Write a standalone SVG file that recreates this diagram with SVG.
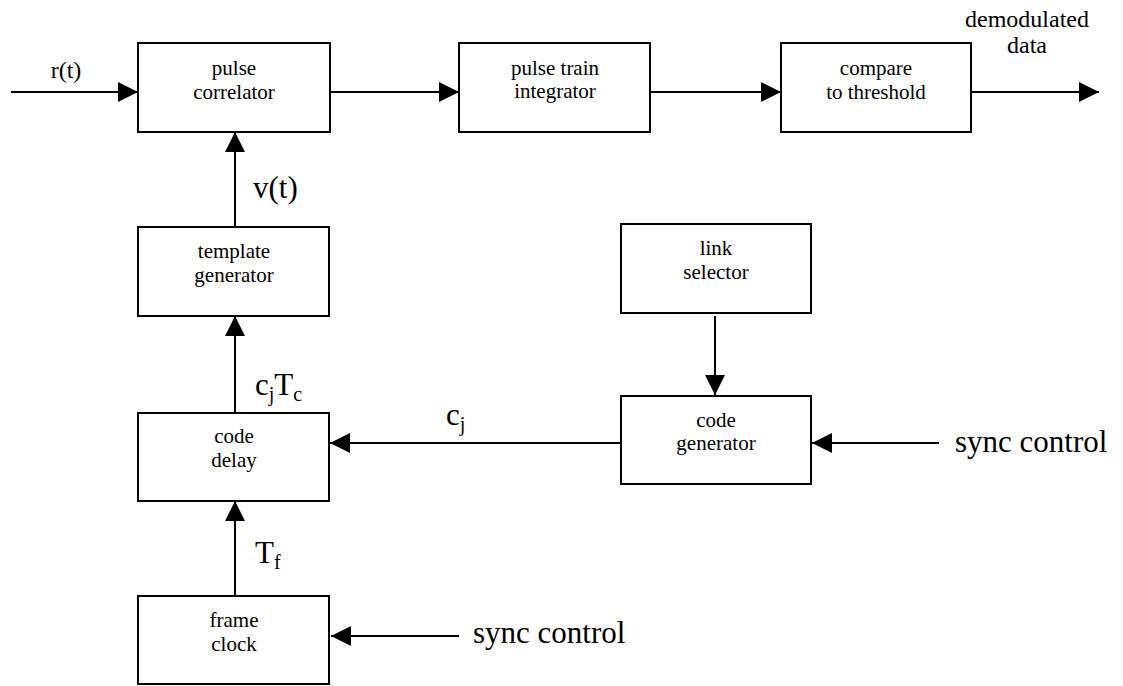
<svg xmlns="http://www.w3.org/2000/svg" width="1123" height="686" viewBox="0 0 1123 686">
<style>
.box{fill:#fff;stroke:#000;stroke-width:2}
.ln{stroke:#000;stroke-width:2;fill:none}
.bl{font-family:"Liberation Serif","Times New Roman",serif;font-size:21px;text-anchor:middle;fill:#000}
.big{font-family:"Liberation Serif","Times New Roman",serif;font-size:31px;fill:#000}
.mid{font-family:"Liberation Serif","Times New Roman",serif;font-size:24px;fill:#000}
.sub{font-size:20px}
</style>
<defs>
<marker id="ah" markerWidth="20" markerHeight="20" refX="20" refY="10" orient="auto" markerUnits="userSpaceOnUse">
<path d="M0,0 L20,10 L0,20 Z" fill="#000"/>
</marker>
</defs>
<g id="connectors">
<line class="ln" x1="11" y1="92" x2="138" y2="92" marker-end="url(#ah)"/>
<line class="ln" x1="330" y1="92" x2="459" y2="92" marker-end="url(#ah)"/>
<line class="ln" x1="650" y1="92" x2="781" y2="92" marker-end="url(#ah)"/>
<line class="ln" x1="971" y1="92" x2="1099" y2="92" marker-end="url(#ah)"/>
<line class="ln" x1="235" y1="227" x2="235" y2="132" marker-end="url(#ah)"/>
<line class="ln" x1="235" y1="413" x2="235" y2="316" marker-end="url(#ah)"/>
<line class="ln" x1="235" y1="596" x2="235" y2="501" marker-end="url(#ah)"/>
<line class="ln" x1="621" y1="443" x2="330" y2="443" marker-end="url(#ah)"/>
<line class="ln" x1="715" y1="316" x2="715" y2="395" marker-end="url(#ah)"/>
<line class="ln" x1="939" y1="443" x2="812" y2="443" marker-end="url(#ah)"/>
<line class="ln" x1="459" y1="636" x2="331" y2="636" marker-end="url(#ah)"/>
<text class="mid" x="66" y="78" text-anchor="middle">r(t)</text>
<text class="mid" x="1027" y="27" text-anchor="middle">demodulated</text>
<text class="mid" x="1027" y="53" text-anchor="middle">data</text>
<text class="big" x="253" y="198">v(t)</text>
<text class="big" x="255" y="395">c<tspan class="sub" dy="6">j</tspan><tspan dy="-6">T</tspan><tspan class="sub" dy="6">c</tspan></text>
<text class="big" x="255" y="563">T<tspan class="sub" dy="6">f</tspan></text>
<text class="big" x="446" y="425">c<tspan class="sub" dy="6">j</tspan></text>
<text class="big" x="955" y="452">sync control</text>
<text class="big" x="473" y="643">sync control</text>
</g>
<g id="pulse-correlator">
<rect class="box" x="138" y="43" width="192" height="89"/>
<text class="bl" x="234" y="75">pulse</text>
<text class="bl" x="234" y="99">correlator</text>
</g>
<g id="pulse-train-integrator">
<rect class="box" x="459" y="43" width="191" height="89"/>
<text class="bl" x="555" y="75">pulse train</text>
<text class="bl" x="555" y="98">integrator</text>
</g>
<g id="compare-to-threshold">
<rect class="box" x="781" y="43" width="190" height="89"/>
<text class="bl" x="876" y="75">compare</text>
<text class="bl" x="876" y="99">to threshold</text>
</g>
<g id="template-generator">
<rect class="box" x="138" y="227" width="191" height="89"/>
<text class="bl" x="234" y="258">template</text>
<text class="bl" x="234" y="282">generator</text>
</g>
<g id="code-delay">
<rect class="box" x="138" y="413" width="191" height="88"/>
<text class="bl" x="234" y="443">code</text>
<text class="bl" x="234" y="467">delay</text>
</g>
<g id="frame-clock">
<rect class="box" x="138" y="596" width="191" height="88"/>
<text class="bl" x="234" y="627">frame</text>
<text class="bl" x="234" y="651">clock</text>
</g>
<g id="link-selector">
<rect class="box" x="621" y="224" width="190" height="89"/>
<text class="bl" x="716" y="255">link</text>
<text class="bl" x="716" y="279">selector</text>
</g>
<g id="code-generator">
<rect class="box" x="621" y="396" width="190" height="88"/>
<text class="bl" x="716" y="427">code</text>
<text class="bl" x="716" y="450">generator</text>
</g>
</svg>
